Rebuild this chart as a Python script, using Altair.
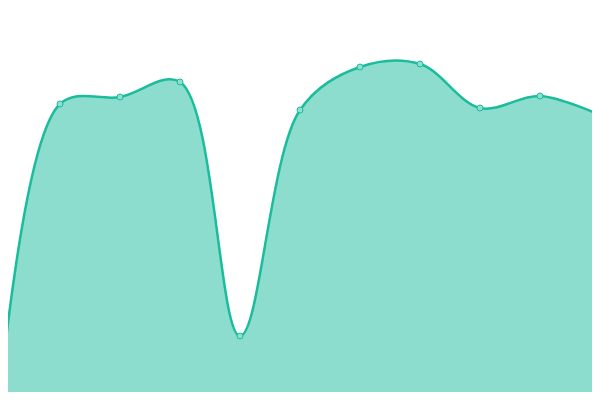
import altair as alt
import pandas as pd

idx = [0, 1, 2, 3, 4, 5, 6, 7, 8, 9, 10]
values = [2, 296, 303, 318, 64, 290, 333, 336, 292, 304, 285]

df = pd.DataFrame({"i": idx, "v": values})

x = alt.X("i:Q", scale=alt.Scale(domain=[8 / 60, 592 / 60], nice=False, zero=False), axis=None)
y = alt.Y("v:Q", scale=alt.Scale(domain=[8, 392], nice=False, zero=False), axis=None)

base = alt.Chart(df).encode(x=x, y=y)

area = base.mark_area(
    interpolate="catmull-rom", color="#1abc9c", opacity=0.5,
    line={"color": "#1abc9c", "strokeWidth": 2.5, "opacity": 1},
)
pts = base.mark_point(
    filled=True, size=36, fill="#8ce0cf", stroke="#1abc9c", strokeWidth=1, opacity=1
)

chart = (area + pts).properties(
    width=584, height=384, autosize="none", padding=0
).configure_view(stroke=None)

chart.save("out.html", embed_options={"renderer": "svg", "actions": False})
